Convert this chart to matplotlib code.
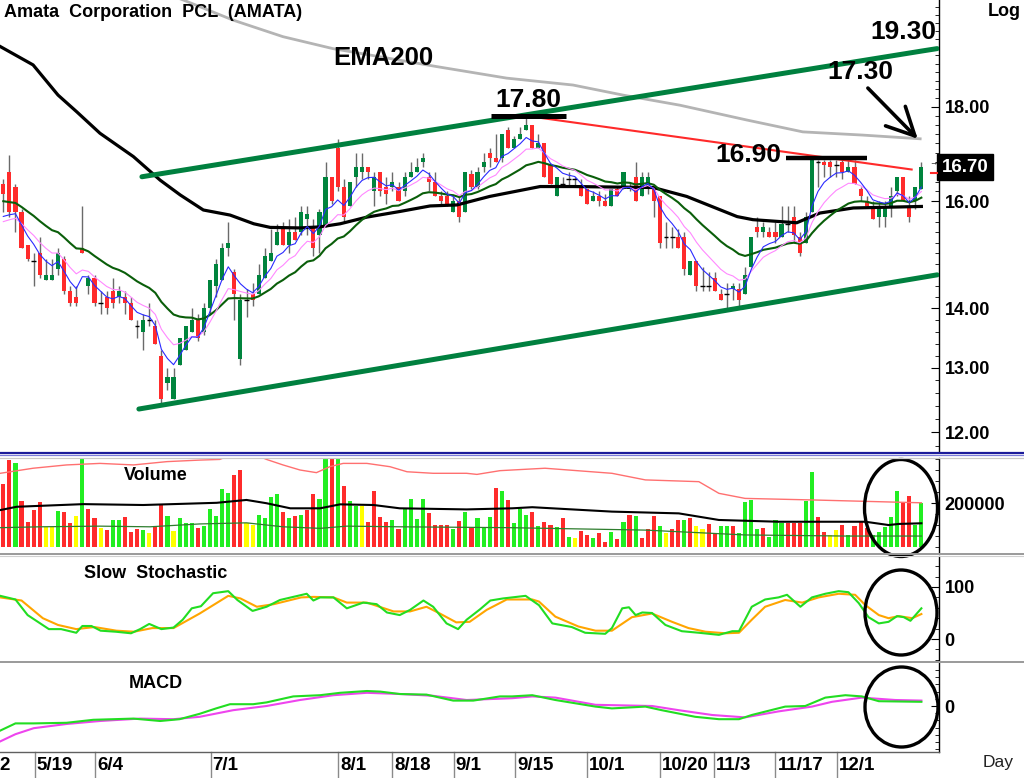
import numpy as np
import matplotlib
matplotlib.use("Agg")
import matplotlib.pyplot as plt
from matplotlib.patches import Ellipse
from matplotlib.ticker import FixedLocator, FixedFormatter, NullFormatter, MultipleLocator
from matplotlib.transforms import blended_transform_factory, offset_copy

plt.rcParams['font.family'] = ['Liberation Sans', 'DejaVu Sans']

# ---------------- daily prices (THB) ----------------
opens = [16.35, 16.60, 16.30, 15.80, 15.15, 14.85, 15.00, 14.50, 14.50, 14.70,
         14.90, 14.30, 14.20, 15.10, 14.40, 14.55, 14.10, 14.20, 14.30, 14.20,
         14.20, 14.10, 13.70, 13.60, 13.80, 13.70, 13.20, 12.75, 12.50, 13.05,
         13.30, 13.60, 13.80, 13.60, 14.00, 14.40, 14.50, 15.10, 14.65, 13.15,
         14.15, 14.25, 14.25, 14.55, 14.85, 15.15, 15.50, 15.15, 15.40, 15.40,
         15.65, 15.50, 15.35, 15.50, 16.50, 17.10, 16.30, 15.90, 16.50, 16.60,
         16.70, 16.20, 16.60, 16.30, 16.30, 16.30, 16.20, 16.50, 16.60, 16.80,
         16.50, 16.40, 16.10, 16.10, 15.80, 16.00, 15.80, 16.55, 16.30, 16.70,
         17.00, 16.90, 16.90, 17.50, 17.10, 17.30, 17.50, 17.60, 17.10, 17.20,
         16.75, 16.10, 16.35, 16.45, 16.45, 16.30, 16.25, 16.00, 16.10, 16.00,
         15.90, 16.25, 16.25, 16.25, 16.50, 16.10, 16.30, 16.30, 16.10, 15.30,
         15.30, 15.30, 15.30, 14.60, 14.85, 14.40, 14.40, 14.55, 14.25, 14.25,
         14.35, 14.35, 14.25, 14.75, 15.50, 15.40, 15.40, 15.40, 15.30, 15.55,
         15.70, 15.30, 15.20, 15.80, 16.80, 16.80, 16.80, 16.75, 16.80, 16.60,
         16.70, 16.25, 16.00, 15.90, 15.70, 15.70, 15.90, 16.20, 16.50, 15.90,
         16.00, 16.25]
highs = [16.45, 16.95, 16.35, 15.85, 15.15, 15.00, 15.30, 14.90, 14.90, 15.10,
         14.95, 14.40, 14.40, 15.90, 14.60, 14.60, 14.30, 14.30, 14.55, 14.40,
         14.30, 14.20, 13.80, 13.90, 14.10, 13.80, 13.30, 13.00, 13.00, 13.50,
         13.70, 14.00, 13.90, 14.10, 14.50, 14.90, 15.20, 15.60, 14.70, 14.25,
         14.35, 14.45, 14.80, 15.10, 15.45, 15.55, 15.60, 15.65, 15.70, 15.90,
         15.90, 15.65, 15.85, 16.80, 16.50, 17.30, 16.45, 16.40, 17.00, 17.00,
         16.70, 16.60, 16.60, 16.50, 16.60, 16.40, 16.60, 16.80, 16.90, 17.00,
         16.60, 16.60, 16.20, 16.20, 16.10, 16.10, 16.60, 16.65, 16.70, 17.00,
         17.10, 17.40, 17.40, 17.55, 17.35, 17.55, 17.80, 17.60, 17.40, 17.20,
         16.75, 16.50, 16.50, 16.60, 16.50, 16.45, 16.25, 16.20, 16.20, 16.15,
         16.25, 16.30, 16.60, 16.40, 16.80, 16.60, 16.60, 16.30, 16.10, 15.60,
         15.50, 15.45, 15.40, 14.85, 14.85, 14.75, 14.65, 14.65, 14.35, 14.45,
         14.45, 14.45, 14.75, 15.30, 15.70, 15.60, 15.50, 15.60, 15.90, 15.90,
         15.90, 15.40, 15.80, 16.90, 16.85, 16.85, 16.85, 16.85, 16.85, 16.85,
         16.85, 16.30, 16.10, 16.00, 16.00, 16.00, 16.30, 16.50, 16.50, 16.10,
         16.30, 16.80]
lows = [15.80, 15.70, 15.40, 15.10, 14.85, 14.40, 14.55, 14.50, 14.50, 14.60,
        14.25, 14.05, 14.05, 15.00, 14.25, 14.05, 13.90, 13.90, 14.00, 14.10,
        13.90, 13.80, 13.50, 13.30, 13.70, 13.40, 12.45, 12.65, 12.50, 13.05,
        13.30, 13.60, 13.45, 13.55, 13.90, 14.20, 14.50, 14.95, 13.80, 13.05,
        13.85, 14.05, 14.25, 14.55, 14.85, 15.15, 15.15, 15.00, 15.25, 15.35,
        15.35, 14.95, 15.00, 15.50, 15.95, 16.20, 15.60, 15.90, 16.30, 16.45,
        16.45, 15.90, 16.10, 15.95, 16.20, 16.00, 16.10, 16.50, 16.60, 16.70,
        16.20, 16.10, 15.90, 15.90, 15.80, 15.60, 15.80, 16.25, 16.25, 16.60,
        16.70, 16.80, 16.80, 17.10, 17.10, 17.30, 17.50, 17.10, 17.10, 16.50,
        16.35, 16.10, 16.30, 16.30, 16.30, 16.10, 15.95, 16.00, 15.90, 15.90,
        15.90, 16.10, 16.25, 16.20, 16.00, 16.10, 16.15, 15.70, 15.10, 15.10,
        15.10, 15.10, 14.60, 14.60, 14.30, 14.30, 14.30, 14.30, 14.15, 14.00,
        14.15, 14.05, 14.25, 14.75, 15.30, 15.30, 15.30, 15.20, 15.30, 15.40,
        15.20, 14.95, 15.20, 15.80, 16.30, 16.50, 16.50, 16.50, 16.45, 16.60,
        16.35, 16.00, 15.90, 15.65, 15.50, 15.50, 15.70, 16.10, 16.00, 15.60,
        15.85, 16.25]
closes = [16.15, 15.80, 15.80, 15.10, 14.90, 14.85, 14.60, 14.60, 14.60, 15.00,
          14.30, 14.10, 14.10, 15.00, 14.55, 14.10, 14.10, 14.00, 14.10, 14.30,
          14.10, 13.80, 13.70, 13.80, 13.80, 13.40, 12.50, 12.85, 12.85, 13.50,
          13.70, 13.80, 13.50, 14.00, 14.50, 14.80, 15.10, 15.20, 14.25, 14.15,
          14.15, 14.15, 14.60, 14.95, 15.00, 15.40, 15.15, 15.40, 15.25, 15.80,
          15.75, 15.10, 15.80, 16.50, 16.00, 16.30, 15.70, 16.40, 16.70, 16.70,
          16.60, 16.50, 16.20, 16.15, 16.40, 16.00, 16.50, 16.60, 16.70, 16.90,
          16.40, 16.10, 16.00, 15.90, 16.00, 15.70, 16.60, 16.30, 16.60, 16.80,
          16.90, 16.80, 17.40, 17.10, 17.30, 17.40, 17.60, 17.10, 17.20, 16.50,
          16.35, 16.50, 16.35, 16.45, 16.45, 16.10, 15.95, 16.10, 16.00, 15.90,
          16.25, 16.10, 16.60, 16.30, 16.00, 16.50, 16.50, 16.00, 15.20, 15.30,
          15.30, 15.10, 14.70, 14.85, 14.40, 14.40, 14.40, 14.30, 14.15, 14.25,
          14.40, 14.15, 14.60, 15.30, 15.40, 15.50, 15.30, 15.30, 15.55, 15.55,
          15.35, 15.00, 15.70, 16.90, 16.80, 16.75, 16.70, 16.75, 16.60, 16.70,
          16.35, 16.10, 15.90, 15.65, 15.90, 15.90, 16.10, 16.50, 16.00, 15.70,
          16.30, 16.70]

# long averages whose history starts before the first bar (bar position, price)
ema60_pts = [(-0.5, 19.41), (4.9, 18.97), (9.0, 18.27), (12.1, 17.89), (15.9, 17.42),
             (21.4, 16.92), (25.8, 16.43), (29.1, 16.13), (32.9, 15.83), (37.3, 15.73),
             (41.2, 15.56), (43.9, 15.49), (48.8, 15.48), (52.1, 15.50), (55.4, 15.56),
             (59.8, 15.69), (65.2, 15.80), (70.2, 15.91), (74.6, 15.93), (80.0, 16.10),
             (88.3, 16.30), (93.7, 16.30), (106.9, 16.28), (112.4, 16.10), (120.7, 15.70),
             (123.3, 15.64), (130.5, 15.58), (134.3, 15.77), (139.8, 15.87), (151, 15.90)]
ema200_pts = [(24.0, 20.90), (29.6, 20.57), (37.8, 20.06), (46.0, 19.65), (54.2, 19.36),
              (71.3, 18.93), (82.8, 18.66), (93.7, 18.50), (101.9, 18.27), (111.3, 18.04),
              (122.3, 17.71), (131.5, 17.45), (141.4, 17.38), (150.8, 17.30)]

# ---------------- daily volume (thousand shares) ----------------
volumes_k = [285, 395, 380, 209, 115, 168, 206, 92, 92, 165,
             158, 108, 141, 400, 171, 130, 88, 77, 123, 123,
             135, 67, 82, 77, 62, 90, 195, 142, 74, 130,
             108, 108, 86, 95, 171, 142, 262, 247, 327, 350,
             108, 99, 145, 130, 229, 241, 158, 130, 141, 145,
             168, 241, 217, 400, 400, 400, 277, 209, 186, 186,
             112, 256, 138, 115, 123, 82, 171, 217, 127, 217,
             153, 99, 99, 99, 82, 118, 158, 85, 130, 85,
             135, 267, 256, 214, 108, 173, 145, 158, 95, 115,
             99, 90, 130, 44, 39, 73, 55, 40, 62, 24,
             67, 35, 115, 145, 141, 40, 82, 141, 95, 62,
             82, 123, 123, 130, 95, 82, 105, 65, 97, 97,
             97, 62, 206, 214, 82, 86, 44, 123, 110, 110,
             110, 110, 211, 342, 138, 70, 55, 77, 100, 55,
             95, 118, 85, 55, 70, 90, 138, 256, 202, 233,
             100, 202]
# r = lower close, g = higher close, y = unchanged
volume_moves = ("rrgrrrryyg" "rrygrryrgg" "rrrgyrrgyg" "ggrgggggrr" "yyggggrgrg"
                "rrggrgrggy" "rrrrgrgggg" "rrrrgrgrgg" "grgrgggrgr" "rgrgyrrgrr"
                "grgrgrrrgy" "rrgryyrrgg" "rggggrgggr" "rrggrryyrg" "rrrgggggrr"
                "gg")

# volume envelope lines (bar position, thousand shares)
vol_upper_pts = [(-0.5, 335), (4.9, 358), (10.4, 373), (15.9, 380), (21.4, 373), (26.9, 388),
                 (32.3, 395), (35.6, 398), (38, 425), (41, 425), (43.3, 398), (46, 373),
                 (48.8, 350), (51.5, 338), (53.7, 365), (55.9, 380), (59.8, 380), (63.6, 365),
                 (66.4, 342), (70.7, 335), (76.2, 335), (77.9, 330), (81.7, 347), (83.7, 350),
                 (89.1, 358), (100.1, 335), (105.6, 305), (114.4, 297), (117.7, 244),
                 (122, 221), (133, 214), (144, 206), (151, 201)]
vol_mid_pts = [(-0.5, 168), (2.2, 183), (13.2, 195), (23, 191), (35.1, 201), (40, 214),
               (43.3, 199), (47.2, 176), (52.1, 176), (55.4, 194), (60.9, 191), (65.2, 176),
               (76.2, 171), (83.7, 176), (87, 181), (100.1, 161), (111.1, 153), (117.7, 123),
               (127.5, 115), (141.8, 115), (145.6, 100), (147.3, 105), (151, 108)]
vol_lower_pts = [(-0.5, 88), (6.1, 92), (15.9, 95), (24.1, 92), (32.3, 105), (40, 110),
                 (46, 92), (52.1, 85), (56.5, 95), (65.2, 92), (83.3, 88), (105.6, 77),
                 (122, 55), (138.5, 50), (151, 50)]

# slow stochastic %K / %D
stoch_k_pts = [(-0.5, 83), (2, 76), (4, 46), (7.5, 19), (9.5, 19), (12, 12), (13, 25), (14.5, 25),
               (16, 16), (18.5, 14), (21, 11), (22.5, 19), (24, 29), (26, 19), (28, 22),
               (29.5, 37), (31, 59), (32.5, 63), (34.5, 88), (37, 92), (38.5, 75), (41, 54),
               (43.3, 62), (45.5, 75), (47.7, 81), (49.9, 87), (51, 74), (52.1, 80), (54.3, 80),
               (56.5, 59), (59.2, 70), (61.4, 67), (63.1, 51), (65.2, 46), (66.9, 56),
               (69.1, 74), (70.7, 62), (72.9, 30), (74.8, 19), (76.2, 37), (78.4, 57),
               (80.1, 74), (82.2, 78), (83.7, 80), (85.9, 83), (88.1, 65), (90.3, 30),
               (93.5, 23), (95.7, 12), (99.0, 10), (100.1, 21), (101.8, 59), (102.9, 61),
               (104.0, 46), (105.1, 51), (106.7, 50), (108.9, 27), (111.6, 15), (114.4, 12),
               (117.7, 8), (119.9, 15), (121.0, 15), (123.1, 62), (125.3, 76), (127.5, 80),
               (128.9, 85), (131.1, 62), (133.0, 80), (135.2, 87), (137.4, 92), (139.0, 90),
               (140.7, 69), (142.3, 42), (144.0, 30), (145.6, 33), (147.0, 44), (148.1, 42),
               (149.2, 35), (151, 59)]
stoch_d_pts = [(-0.5, 80), (3, 74), (6.5, 40), (9, 27), (12, 19), (15, 23), (18.6, 16), (21.5, 14),
               (24.5, 21), (28, 21), (32.3, 49), (37, 83), (39, 78), (41.7, 62), (44.5, 67),
               (49, 80), (51, 81), (54.3, 80), (56.5, 70), (59.8, 70), (64.2, 53), (66.9, 53),
               (69.6, 62), (71.8, 49), (74.5, 32), (76.7, 33), (79.5, 56), (82.8, 76),
               (87, 76), (88.1, 72), (90.8, 43), (94.6, 24), (97.4, 16), (100.1, 16),
               (103.4, 42), (106.7, 49), (110, 33), (112.7, 21), (115.5, 14), (118.8, 11),
               (121, 12), (123.1, 37), (125.3, 62), (128.6, 75), (131.4, 70), (134.1, 80),
               (137.4, 87), (140.1, 85), (141.8, 65), (144, 46), (145.6, 40), (147.3, 44),
               (149.5, 40), (151, 48)]

# MACD line / signal line
macd_pts = [(-0.5, -0.41), (2, -0.29), (5, -0.29), (10.4, -0.28), (14.8, -0.23), (21.4, -0.21),
            (25.8, -0.25), (29, -0.22), (32.3, -0.13), (35, -0.04), (37.3, 0.03), (41.1, 0.03),
            (43.3, 0.06), (47.7, 0.16), (52.1, 0.18), (55.4, 0.22), (59.8, 0.25), (62, 0.24),
            (65.2, 0.20), (69.6, 0.19), (74, 0.09), (77.3, 0.09), (81.7, 0.16), (83.7, 0.16),
            (87, 0.18), (90.8, 0.10), (97.4, -0.01), (100.1, -0.04), (105.6, -0.01),
            (108.3, -0.07), (113.8, -0.18), (117.7, -0.22), (121, -0.22), (123.1, -0.15),
            (128.6, -0.01), (131.9, 0.0), (135.2, 0.14), (138.5, 0.18), (141.2, 0.16),
            (144, 0.08), (151, 0.07)]
signal_pts = [(-0.5, -0.59), (2, -0.47), (5, -0.37), (10.4, -0.30), (15.9, -0.25), (22.5, -0.21),
              (28, -0.22), (32.3, -0.18), (37.8, -0.07), (43.3, 0.0), (48.8, 0.10), (54.3, 0.18),
              (59.8, 0.22), (65.2, 0.20), (70.7, 0.17), (76.2, 0.10), (83.7, 0.13), (87, 0.16),
              (90.8, 0.14), (97.4, 0.02), (106.7, 0.0), (111.1, -0.07), (116.6, -0.15),
              (122, -0.19), (127.5, -0.09), (133, -0.01), (136.3, 0.07), (141.2, 0.14),
              (146.7, 0.10), (151, 0.09)]

# short moving averages: span -> value carried in from earlier history
ema_seeds = {5: 15.48, 10: 15.48, 21: 15.99}

# trend lines (bar position, price)
upper_channel = [(22.8, 16.50), (151, 19.30), (153.6, 19.36)]
lower_channel = [(22.3, 12.35), (153.6, 14.60)]
falling_resist = [(86.1, 17.80), (149.4, 16.65)]
top_1780 = (80.2, 92.5, 17.80)
top_1690 = (128.7, 142.1, 16.90)
last_price = 16.70
ema200_last = 17.30

date_labels = ["2", "5/19", "6/4", "7/1", "8/1", "8/18", "9/1", "9/15",
               "10/1", "10/20", "11/3", "11/17", "12/1"]
date_bars = [-0.9, 5.2, 15.1, 34.1, 55.1, 64.0, 74.1, 84.2, 96.0, 108.0, 116.9, 127.0, 137.1]


def ema(values, span, seed):
    alpha = 2.0 / (span + 1.0)
    out, prev = [], seed
    for v in values:
        prev = prev + alpha * (v - prev)
        out.append(prev)
    return np.array(out)


def split(pts):
    a = np.array(pts, dtype=float)
    return a[:, 0], a[:, 1]


W, H = 1024, 778
fig = plt.figure(figsize=(W / 100, H / 100), dpi=100, facecolor='white')


def rect(x0, y0, x1, y1):
    return [x0 / W, 1 - y1 / H, (x1 - x0) / W, (y1 - y0) / H]


ax_p = fig.add_axes(rect(0, 0, 939, 451))
ax_v = fig.add_axes(rect(0, 458, 939, 553))
ax_s = fig.add_axes(rect(0, 556, 939, 661))
ax_m = fig.add_axes(rect(0, 663, 939, 752))

XL = (-3.3 / 6.08, (939 - 3.3) / 6.08)
BOLD = dict(fontweight='bold')
for a in (ax_p, ax_v, ax_s, ax_m):
    a.set_xlim(*XL)
    a.set_facecolor('white')
    for s in ('left', 'top', 'bottom'):
        a.spines[s].set_visible(False)
    a.spines['right'].set_color('black')
    a.spines['right'].set_linewidth(1.0)
    a.set_xticks([])
    a.yaxis.tick_right()
    a.tick_params(axis='y', which='major', direction='in', length=6, width=0.8,
                  pad=4, labelsize=13, colors='black')
    a.tick_params(axis='y', which='minor', direction='in', length=3, width=0.6)

o = np.array(opens); h = np.array(highs); l = np.array(lows); c = np.array(closes)
idx = np.arange(len(c))

# ---------------- price panel ----------------
ax_p.set_yscale('log')
ax_p.set_ylim(11.72, 20.57)
ax_p.yaxis.set_major_locator(FixedLocator([12, 13, 14, 16, 18]))
ax_p.yaxis.set_major_formatter(FixedFormatter(["12.00", "13.00", "14.00", "16.00", "18.00"]))
ax_p.yaxis.set_minor_locator(FixedLocator(np.arange(11.8, 20.6, 0.2)))
ax_p.yaxis.set_minor_formatter(NullFormatter())
for t in ax_p.get_yticklabels():
    t.set_fontweight('bold')

up = c > o
dn = c < o
flat = c == o
ax_p.vlines(idx, l, h, color='#6a6a6a', lw=1.0, zorder=2)
ax_p.bar(idx[up], (c - o)[up], bottom=o[up], width=0.68, color='#00843d', lw=0, zorder=3)
ax_p.bar(idx[dn], (o - c)[dn], bottom=c[dn], width=0.68, color='#ff2b2b', lw=0, zorder=3)
ax_p.hlines(c[flat], idx[flat] - 0.4, idx[flat] + 0.4, color='black', lw=1.0, zorder=3)

xs, ys = split(ema200_pts)
ax_p.plot(xs, ys, color='#b4b4b4', lw=2.0, zorder=4)
xs, ys = split(ema60_pts)
ax_p.plot(xs, ys, color='black', lw=2.3, zorder=4)
ax_p.plot(idx, ema(c, 21, ema_seeds[21]), color='#0a5e0a', lw=1.5, zorder=4)
ax_p.plot(idx, ema(c, 10, ema_seeds[10]), color='#ff88ff', lw=0.8, zorder=4)
ax_p.plot(idx, ema(c, 5, ema_seeds[5]), color='#2a2aff', lw=0.8, zorder=4)

for pts in (upper_channel, lower_channel):
    xs, ys = split(pts)
    ax_p.plot(xs, ys, color='#00803f', lw=3.6, solid_capstyle='round', zorder=5)
xs, ys = split(falling_resist)
ax_p.plot(xs, ys, color='#ff2a2a', lw=1.5, zorder=5)
ax_p.hlines(top_1780[2], top_1780[0], top_1780[1], color='black', lw=3.6, zorder=6)
ax_p.hlines(top_1690[2], top_1690[0], top_1690[1], color='black', lw=3.2, zorder=6)
ax_p.annotate('', xy=(150.4, ema200_last), xytext=(142.2, 18.43),
              arrowprops=dict(arrowstyle='->,head_length=1.0,head_width=0.5',
                              lw=2.6, color='black', mutation_scale=20,
                              shrinkA=0, shrinkB=0), zorder=7)

tr_last = blended_transform_factory(ax_p.transAxes, ax_p.transData)
ax_p.text(1.003, last_price, f"{last_price:.2f}", transform=tr_last, color='white',
          fontsize=13.5, fontweight='bold', ha='left', va='center', clip_on=False,
          bbox=dict(boxstyle='square,pad=0.25', fc='black', ec='black'), zorder=8)

# ---------------- volume panel ----------------
vol_cmap = {'r': '#ff2b2b', 'g': '#22ee22', 'y': '#ffff00'}
vols = np.array(volumes_k) * 1000
ax_v.set_ylim(-27000, 404500)
ax_v.bar(idx, vols, width=0.68, color=[vol_cmap[m] for m in volume_moves], lw=0, zorder=2)
for pts, col, lw in ((vol_upper_pts, '#ff7070', 1.0), (vol_mid_pts, 'black', 1.5),
                     (vol_lower_pts, '#2e7d2e', 0.9)):
    xs, ys = split(pts)
    ax_v.plot(xs, ys * 1000, color=col, lw=lw, zorder=3)
ax_v.yaxis.set_major_locator(FixedLocator([200000]))
ax_v.yaxis.set_major_formatter(FixedFormatter(["200000"]))
ax_v.yaxis.set_minor_locator(MultipleLocator(50000))
for t in ax_v.get_yticklabels():
    t.set_fontweight('bold')

# ---------------- slow stochastic ----------------
ax_s.set_ylim(-42.3, 159.6)
xs, ys = split(stoch_d_pts)
ax_s.plot(xs, ys, color='#ffa500', lw=1.5, zorder=2)
xs, ys = split(stoch_k_pts)
ax_s.plot(xs, ys, color='#22dd22', lw=1.5, zorder=3)
ax_s.yaxis.set_major_locator(FixedLocator([0, 100]))
ax_s.yaxis.set_major_formatter(FixedFormatter(["0", "100"]))
ax_s.yaxis.set_minor_locator(MultipleLocator(20))
for t in ax_s.get_yticklabels():
    t.set_fontweight('bold')

# ---------------- MACD ----------------
ax_m.set_ylim(-0.767, 0.717)
xs, ys = split(signal_pts)
ax_m.plot(xs, ys, color='#ee44ee', lw=1.5, zorder=2)
xs, ys = split(macd_pts)
ax_m.plot(xs, ys, color='#22dd22', lw=1.5, zorder=3)
ax_m.yaxis.set_major_locator(FixedLocator([0]))
ax_m.yaxis.set_major_formatter(FixedFormatter(["0"]))
ax_m.yaxis.set_minor_locator(MultipleLocator(0.12))
for t in ax_m.get_yticklabels():
    t.set_fontweight('bold')

# date axis under the MACD panel
xtr = ax_m.get_xaxis_transform()
lab_tr = offset_copy(xtr, fig=fig, x=2, y=0, units='dots')
for b, lab in zip(date_bars, date_labels):
    ax_m.plot([b, b], [0, -0.3], transform=xtr, color='#8a8a8a', lw=1.0, clip_on=False)
    ax_m.text(b, -0.148, lab, transform=lab_tr, ha='left', va='center',
              fontsize=13.5, fontweight='bold', clip_on=False)

# ---------------- overlay: frames, captions, marks ----------------
ov = fig.add_axes([0, 0, 1, 1])
ov.set_xlim(0, W)
ov.set_ylim(H, 0)
ov.axis('off')
ov.set_zorder(20)
ov.patch.set_alpha(0)

ov.plot([0, W], [452.5, 452.5], color='#1a1a9a', lw=1.6)
ov.plot([0, W], [455.0, 455.0], color='#7a7ad8', lw=0.9)
ov.plot([0, W], [457.5, 457.5], color='#c8c8c8', lw=0.9)
ov.plot([0, W], [554.0, 554.0], color='#9a9a9a', lw=1.4)
ov.plot([0, W], [556.0, 556.0], color='#d0d0d0', lw=0.8)
ov.plot([0, W], [661.5, 661.5], color='#9a9a9a', lw=1.4)
ov.plot([0, 939], [752.0, 752.0], color='#606060', lw=1.0)

ov.text(4, 12, "Amata  Corporation  PCL  (AMATA)", fontsize=13, ha='left', va='center', **BOLD)
ov.text(988, 11, "Log", fontsize=13, ha='left', va='center', **BOLD)
ov.text(333, 58, "EMA200", fontsize=18.5, ha='left', va='center', **BOLD)
ov.text(528, 100, "17.80", fontsize=19, ha='center', va='center', **BOLD)
ov.text(903, 32, "19.30", fontsize=19, ha='center', va='center', **BOLD)
ov.text(860, 72, "17.30", fontsize=19, ha='center', va='center', **BOLD)
ov.text(748, 155, "16.90", fontsize=19, ha='center', va='center', **BOLD)
ov.text(156, 475, "Volume", fontsize=13, ha='center', va='center', **BOLD)
ov.text(156, 573, "Slow  Stochastic", fontsize=13, ha='center', va='center', **BOLD)
ov.text(156, 683, "MACD", fontsize=13, ha='center', va='center', **BOLD)
ov.text(983, 763, "Day", fontsize=12.5, ha='left', va='center', color='#222222')

ov.plot([931, 937], [173, 173], color='#ff2a2a', lw=1.5)
ov.text(933, 164, "\u2192", fontsize=6, ha='center', va='center')

for cx, cy, ew, eh in ((901, 508, 73, 97), (901, 612.5, 72, 85), (901.5, 707, 73, 80)):
    ov.add_patch(Ellipse((cx, cy), ew, eh, fill=False, ec='black', lw=2.4))

fig.savefig("out.png", dpi=100, facecolor='white')
